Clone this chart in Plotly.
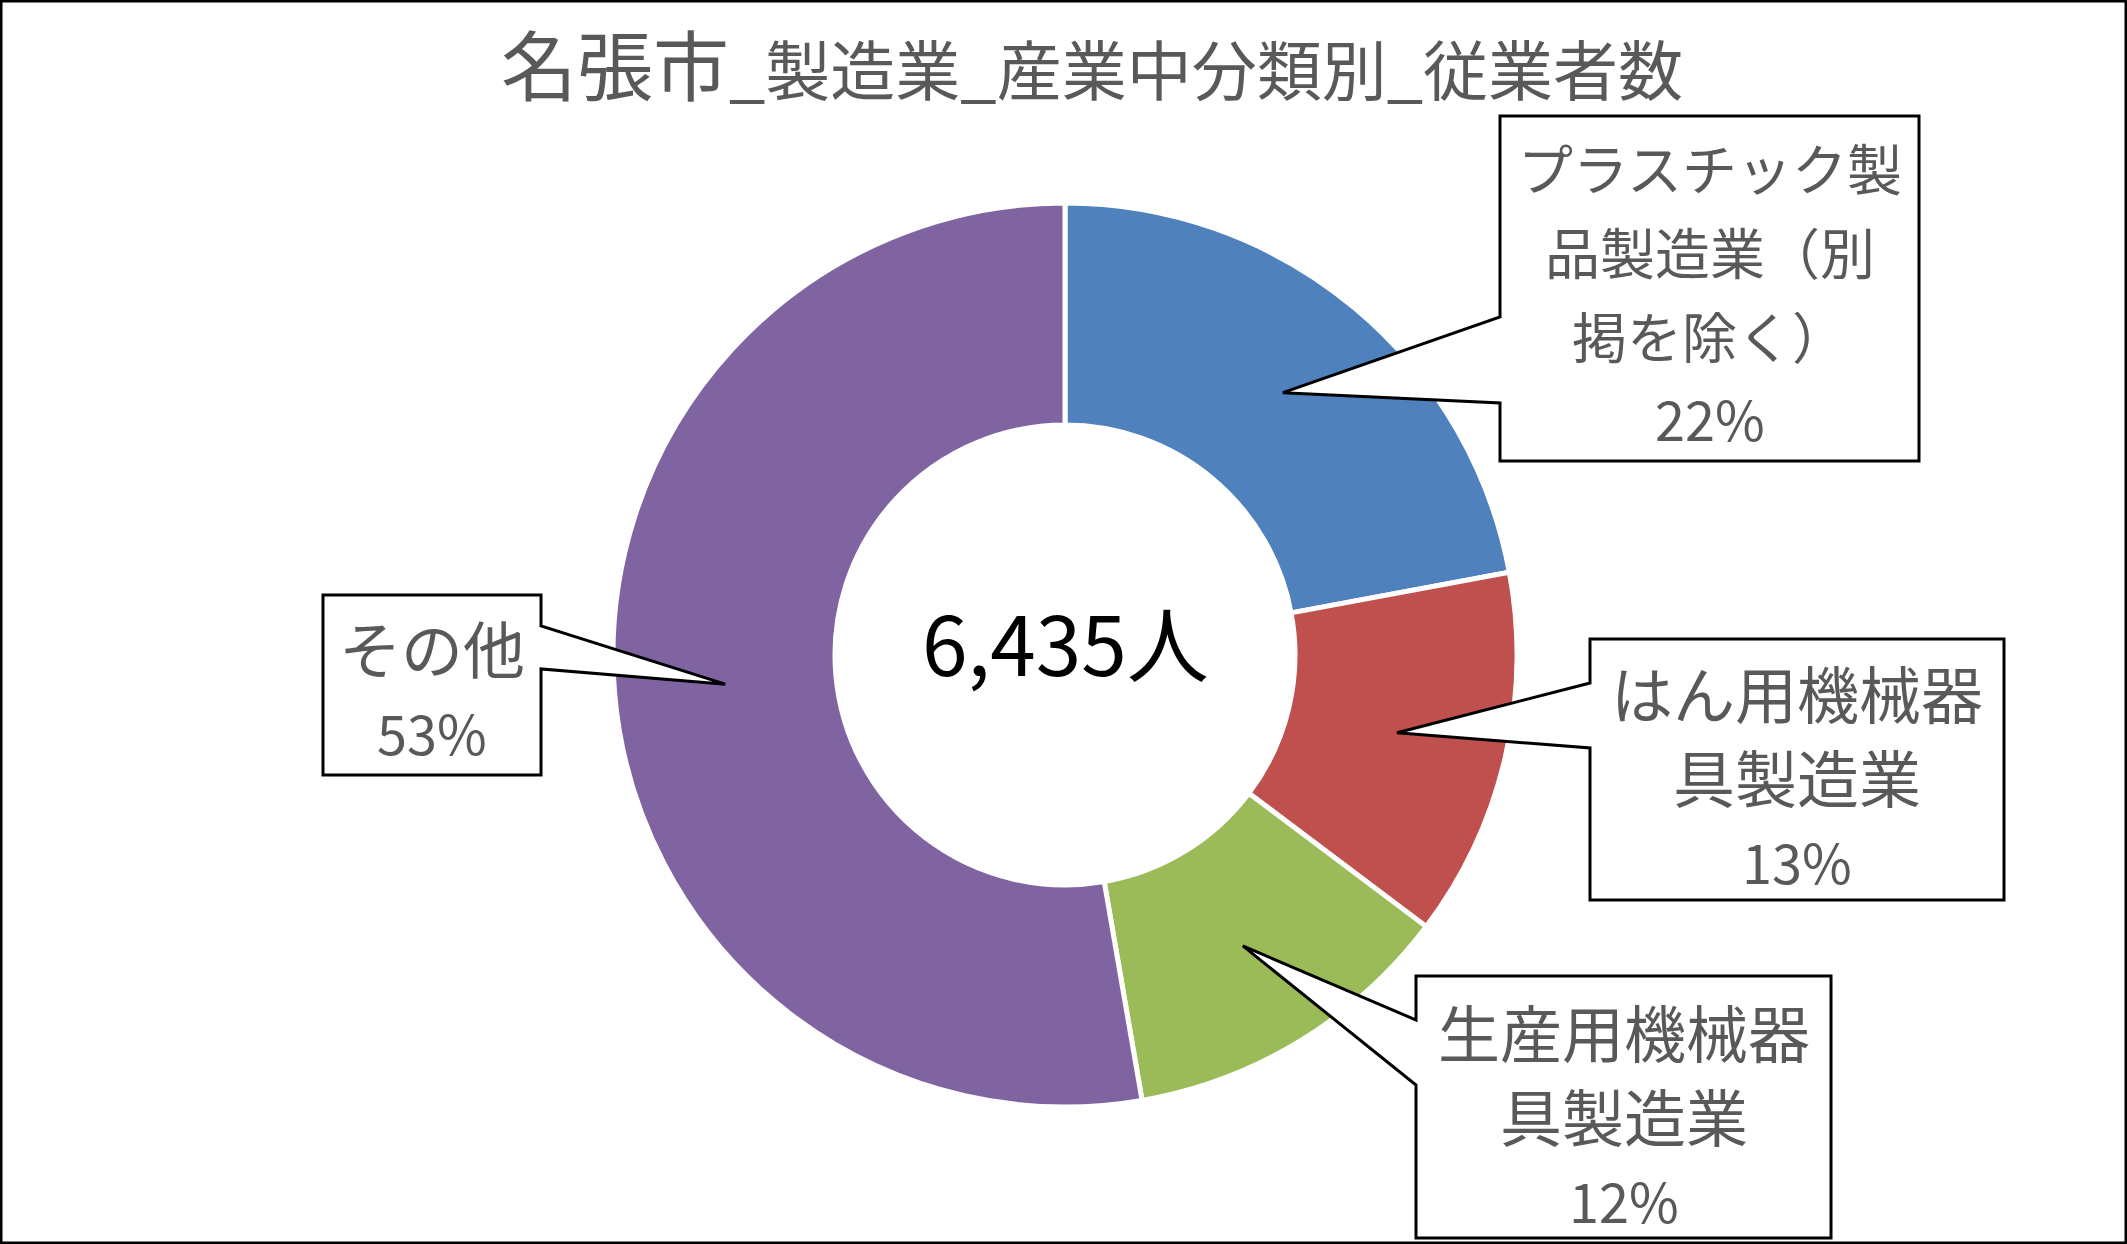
import math
import plotly.graph_objects as go

# ---------------- data ----------------
categories = ["プラスチック製品製造業（別掲を除く）", "はん用機械器具製造業", "生産用機械器具製造業", "その他"]
label_lines = [["プラスチック製", "品製造業（別", "掲を除く）"],
               ["はん用機械器", "具製造業"],
               ["生産用機械器", "具製造業"],
               ["その他"]]
values = [1420, 849, 773, 3393]
colors = ["#4F81BD", "#C0504D", "#9BBB59", "#8064A2"]
title_main = "名張市"
title_rest = "_製造業_産業中分類別_従業者数"
unit = "人"

# ---------------- layout constants (pixels) ----------------
W, H = 2127, 1244
CX, CY = 1065, 655
R_OUT, R_IN = 452, 230
GREY = "#595959"
FONT = "Noto Sans CJK JP"

def px(x):
    return x / W

def py(y):
    return 1 - y / H

fig = go.Figure()
fig.add_trace(go.Pie(
    labels=categories, values=values, sort=False, direction="clockwise", rotation=0,
    hole=R_IN / R_OUT,
    marker=dict(colors=colors, line=dict(color="white", width=5)),
    textinfo="none", hoverinfo="label+value+percent", showlegend=False,
    domain=dict(x=[px(CX - R_OUT), px(CX + R_OUT)], y=[py(CY + R_OUT), py(CY - R_OUT)]),
))

total = sum(values)
annotations = []
shapes = []

# center total
annotations.append(dict(x=px(CX), y=py(640), xref="paper", yref="paper", showarrow=False,
                        text=f"{total:,}{unit}", font=dict(size=82, color="black", family=FONT),
                        xanchor="center", yanchor="middle"))

# title
annotations.append(dict(x=px(1092), y=py(62), xref="paper", yref="paper", showarrow=False,
                        text=f'<span style="font-size:76px">{title_main}</span>{title_rest}',
                        font=dict(size=65, color=GREY, family=FONT),
                        xanchor="center", yanchor="middle"))

# callout boxes: (x0, y0, x1, y1, side, base_y_top, base_y_bottom, first line y, font size)
boxes = [
    (1500, 116, 1919, 461, "left", 317, 403, 166, 55),
    (1590, 639, 2004, 900, "left", 683, 748, 692, 62),
    (1416, 976, 1831, 1238, "left", 1020, 1085, 1031, 62),
    (323, 595, 541, 775, "right", 626, 669, 647, 62),
]
LINE_GAP = 84
PCT_SIZE = 54

cum = 0
for i, v in enumerate(values):
    mid = (cum + v / 2) / total * 2 * math.pi
    cum += v
    r_mid = (R_OUT + R_IN) / 2
    tx = CX + r_mid * math.sin(mid)
    ty = CY - r_mid * math.cos(mid)
    x0, y0, x1, y1, side, b1, b2, ly, fs = boxes[i]
    if side == "left":
        pts = [(x0, y0), (x1, y0), (x1, y1), (x0, y1), (x0, b2), (tx, ty), (x0, b1)]
    else:
        pts = [(x0, y0), (x1, y0), (x1, b1), (tx, ty), (x1, b2), (x1, y1), (x0, y1)]
    path = "M " + " L ".join(f"{px(a):.5f},{py(b):.5f}" for a, b in pts) + " Z"
    shapes.append(dict(type="path", xref="paper", yref="paper", path=path,
                       fillcolor="white", line=dict(color="black", width=3)))
    pct = round(v / total * 100)
    lines = label_lines[i] + [f"{pct}%"]
    sizes = [fs] * len(label_lines[i]) + [PCT_SIZE]
    xc = (x0 + x1) / 2
    for j, t in enumerate(lines):
        annotations.append(dict(x=px(xc), y=py(ly + j * LINE_GAP), xref="paper", yref="paper",
                                showarrow=False, text=t, xanchor="center", yanchor="middle",
                                font=dict(size=sizes[j], color=GREY, family=FONT)))

# outer frame
shapes.append(dict(type="rect", xref="paper", yref="paper", x0=0, y0=0, x1=1, y1=1,
                   line=dict(color="black", width=5), fillcolor="rgba(0,0,0,0)", layer="above"))

fig.update_layout(width=W, height=H, margin=dict(l=0, r=0, t=0, b=0),
                  paper_bgcolor="white", plot_bgcolor="white",
                  annotations=annotations, shapes=shapes,
                  font=dict(family=FONT, color=GREY))
fig.write_html("out.html", config={"displayModeBar": False},
               post_script="document.body.style.margin='0px';")
